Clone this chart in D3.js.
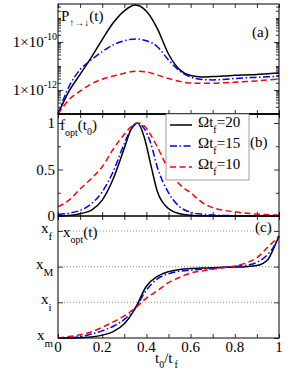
<!DOCTYPE html>
<html>
<head>
<meta charset="utf-8">
<script src="https://cdn.jsdelivr.net/npm/d3@7"></script>
<style>
  body { margin: 0; background: #fff; }
  svg { display: block; font-family: "Liberation Serif", "DejaVu Serif", serif; }
</style>
</head>
<body>
<svg id="chart" width="291" height="376"></svg>
<script>
// panel (a): log10 of P_{up->down}(t)
var tA = [0, 0.05, 0.1, 0.15, 0.2, 0.25, 0.3, 0.35, 0.4, 0.45, 0.5, 0.55, 0.6, 0.65, 0.7, 0.75, 0.8, 0.85, 0.9, 0.95, 1];
var pLog20 = [-13.0, -12.05, -11.35, -10.65, -9.9, -9.2, -8.7, -8.46, -8.72, -9.45, -10.5, -11.15, -11.4, -11.46, -11.44, -11.42, -11.39, -11.37, -11.35, -11.32, -11.29];
var pLog15 = [-13.0, -11.85, -11.15, -10.75, -10.4, -10.12, -9.95, -9.87, -9.95, -10.2, -10.75, -11.2, -11.46, -11.56, -11.58, -11.56, -11.52, -11.49, -11.47, -11.45, -11.42];
var pLog10 = [-13.0, -12.4, -12.05, -11.75, -11.55, -11.42, -11.3, -11.22, -11.25, -11.38, -11.52, -11.64, -11.71, -11.72, -11.72, -11.7, -11.68, -11.65, -11.62, -11.58, -11.54];

// panel (b): f_opt(t0)
var tB = [0, 0.05, 0.1, 0.15, 0.2, 0.25, 0.3, 0.33, 0.36, 0.39, 0.42, 0.45, 0.5, 0.55, 0.6, 0.65, 0.7, 0.8, 0.9, 1];
var f20 = [0, 0.005, 0.025, 0.06, 0.17, 0.4, 0.73, 0.93, 1.0, 0.85, 0.55, 0.26, 0.08, 0.025, 0.008, 0.003, 0.001, 0, 0, 0];
var f15 = [0.015, 0.03, 0.06, 0.13, 0.26, 0.48, 0.78, 0.93, 1.0, 0.94, 0.78, 0.52, 0.25, 0.1, 0.04, 0.02, 0.01, 0.003, 0, 0];
var f10 = [0.1, 0.17, 0.29, 0.4, 0.53, 0.72, 0.88, 0.96, 1.0, 0.97, 0.87, 0.74, 0.5, 0.34, 0.25, 0.15, 0.09, 0.045, 0.02, 0.01];

// panel (c): x_opt(t), in units where x_m=0, x_i=1, x_M=2, x_f=3
var tC = [0, 0.05, 0.1, 0.15, 0.2, 0.25, 0.3, 0.35, 0.4, 0.45, 0.5, 0.55, 0.6, 0.65, 0.7, 0.75, 0.8, 0.85, 0.9, 0.95, 0.975, 1];
var x20 = [0, 0, 0.005, 0.03, 0.08, 0.18, 0.4, 0.84, 1.45, 1.73, 1.86, 1.92, 1.95, 1.96, 1.97, 1.98, 1.99, 2.0, 2.03, 2.2, 2.5, 2.86];
var x15 = [0, 0.01, 0.03, 0.11, 0.2, 0.33, 0.52, 0.84, 1.34, 1.66, 1.8, 1.87, 1.9, 1.93, 1.95, 1.98, 2.0, 2.04, 2.12, 2.35, 2.55, 2.86];
var x10 = [0, 0.04, 0.09, 0.17, 0.3, 0.45, 0.62, 0.84, 1.12, 1.33, 1.55, 1.7, 1.82, 1.88, 1.93, 1.97, 2.02, 2.1, 2.25, 2.55, 2.7, 2.86];

var seriesNames = ['20', '15', '10'];
var xTickLabels = ['0', '0.2', '0.4', '0.6', '0.8', '1'];
var cLevels = [['x', 'm'], ['x', 'i'], ['x', 'M'], ['x', 'f']];

var styles = [
  { color: '#000', dash: null },
  { color: '#0000ff', dash: '7,2.5,1.5,2.5' },
  { color: '#ff0000', dash: '6,3.5' }
];

var svg = d3.select('#chart');
var left = 58, right = 279;
var x = d3.scaleLinear().domain([0, 1]).range([left, right]);

var panels = [
  { top: 4, bottom: 114 },
  { top: 114, bottom: 216 },
  { top: 216, bottom: 338 }
];

var yA = d3.scaleLog().domain([1e-13, Math.pow(10, -8.417)]).range([panels[0].bottom, panels[0].top]);
var yB = d3.scaleLinear().domain([0, 1.097]).range([panels[1].bottom, panels[1].top]);
var yC = d3.scaleLinear().domain([0, 3.42]).range([panels[2].bottom, panels[2].top]);

// minor ticks of the log axis
var logMinor = [];
for (var e = -13; e <= -9; e++) {
  for (var k = 2; k <= 9; k++) logMinor.push(k * Math.pow(10, e));
}
logMinor = logMinor.concat([1e-13, 1e-11, 1e-9]).filter(v => v <= yA.domain()[1]);

var xMinor = d3.range(0, 11).map(i => i / 10);

function drawTicks(g, scale, axisFn, values, len, off) {
  g.append('g')
    .attr('transform', off)
    .call(axisFn(scale).tickValues(values).tickSize(-len).tickFormat(''))
    .call(s => s.select('.domain').remove())
    .selectAll('line').attr('stroke', '#000').attr('stroke-width', 0.8);
}

panels.forEach(function(p, i) {
  var g = svg.append('g');
  // x ticks on bottom and top of each panel
  drawTicks(g, x, d3.axisBottom, xMinor, 4, 'translate(0,' + p.bottom + ')');
  drawTicks(g, x, d3.axisTop, xMinor, 4, 'translate(0,' + p.top + ')');
  var ys, major, minor;
  if (i === 0) { ys = yA; major = [1e-12, 1e-10]; minor = logMinor; }
  if (i === 1) { ys = yB; major = [0, 0.5, 1]; minor = [0.25, 0.75]; }
  if (i === 2) { ys = yC; major = [0, 1, 2, 3]; minor = []; }
  drawTicks(g, ys, d3.axisLeft, major, 5, 'translate(' + left + ',0)');
  drawTicks(g, ys, d3.axisRight, major, 5, 'translate(' + right + ',0)');
  drawTicks(g, ys, d3.axisLeft, minor, 3, 'translate(' + left + ',0)');
  drawTicks(g, ys, d3.axisRight, minor, 3, 'translate(' + right + ',0)');
});

// dotted levels in panel (c)
svg.append('g').selectAll('line')
  .data([1, 2, 3])
  .join('line')
  .attr('x1', left).attr('x2', right)
  .attr('y1', d => yC(d)).attr('y2', d => yC(d))
  .attr('stroke', '#777').attr('stroke-width', 0.8)
  .attr('stroke-dasharray', '1,2');

// curves
function drawCurves(ts, sets, ys, conv) {
  var line = d3.line()
    .x(d => x(d[0]))
    .y(d => ys(conv(d[1])))
    .curve(d3.curveMonotoneX);
  sets.forEach(function(vals, i) {
    svg.append('path')
      .datum(ts.map((t, j) => [t, vals[j]]))
      .attr('d', line)
      .attr('fill', 'none')
      .attr('stroke', styles[i].color)
      .attr('stroke-width', 1.5)
      .attr('stroke-dasharray', styles[i].dash);
  });
}
drawCurves(tA, [pLog20, pLog15, pLog10], yA, v => Math.pow(10, v));
drawCurves(tB, [f20, f15, f10], yB, v => v);
drawCurves(tC, [x20, x15, x10], yC, v => v);

// frames
panels.forEach(function(p) {
  svg.append('rect')
    .attr('x', left).attr('y', p.top)
    .attr('width', right - left).attr('height', p.bottom - p.top)
    .attr('fill', 'none').attr('stroke', '#000').attr('stroke-width', 1);
});
svg.append('line').attr('x1', left).attr('x2', right)
  .attr('y1', panels[0].bottom).attr('y2', panels[0].bottom)
  .attr('stroke', '#000').attr('stroke-width', 1.6);

// x tick labels
svg.append('g').selectAll('text')
  .data(xTickLabels)
  .join('text')
  .attr('x', d => x(+d))
  .attr('y', 352)
  .attr('text-anchor', 'middle')
  .attr('font-size', 15)
  .text(d => d);

var xl = svg.append('text').attr('x', 155).attr('y', 363).attr('font-size', 15);
xl.append('tspan').text('t');
xl.append('tspan').attr('font-size', 10).attr('dy', 5).text('0');
xl.append('tspan').attr('dy', -5).text('/t');
xl.append('tspan').attr('font-size', 10).attr('dy', 5).attr('dx', 2).text('f');

// y tick labels (a)
[1e-10, 1e-12].forEach(function(v) {
  var t = svg.append('text').attr('x', 57).attr('y', yA(v) + 5).attr('text-anchor', 'end').attr('font-size', 15);
  t.append('tspan').text('1\u00d710');
  t.append('tspan').attr('font-size', 10).attr('dy', -7).text(String(Math.round(Math.log10(v))));
});

// y tick labels (b)
[[1, '1'], [0.5, '0.5'], [0, '0']].forEach(function(d) {
  svg.append('text').attr('x', 55).attr('y', yB(d[0]) + 5)
    .attr('text-anchor', 'end').attr('font-size', 15).text(d[1]);
});

// y tick labels (c)
cLevels.forEach(function(d, i) {
  var t = svg.append('text').attr('x', i === 0 ? 37 : (i === 2 ? 36 : 41))
    .attr('y', yC(i) + 2).attr('font-size', 15);
  t.append('tspan').text(d[0]);
  t.append('tspan').attr('font-size', 11).attr('dy', 7).text(d[1]);
});

// quantity labels
var la = svg.append('text').attr('x', 61).attr('y', 21).attr('font-size', 15);
la.append('tspan').text('P');
la.append('tspan').attr('font-size', 10).attr('dy', 5).text('\u2191\u2192\u2193');
la.append('tspan').attr('dy', -5).text('(t)');

var lb = svg.append('text').attr('x', 60).attr('y', 130).attr('font-size', 15);
lb.append('tspan').text('f');
lb.append('tspan').attr('font-size', 10).attr('dy', 6).text('opt');
lb.append('tspan').attr('dy', -6).text('(t');
lb.append('tspan').attr('font-size', 10).attr('dy', 5).text('0');
lb.append('tspan').attr('dy', -5).text(')');

var lc = svg.append('text').attr('x', 63).attr('y', 237).attr('font-size', 15);
lc.append('tspan').text('x');
lc.append('tspan').attr('font-size', 10).attr('dy', 6).text('opt');
lc.append('tspan').attr('dy', -6).text('(t)');

// panel tags
[['(a)', 252, 37], ['(b)', 250, 147], ['(c)', 255, 232]].forEach(function(d) {
  svg.append('text').attr('x', d[1]).attr('y', d[2]).attr('font-size', 15).text(d[0]);
});

// legend
var lg = svg.append('g');
lg.append('rect').attr('x', 166).attr('y', panels[1].top).attr('width', 83).attr('height', 66)
  .attr('fill', '#fff').attr('stroke', '#888').attr('stroke-width', 0.8);
seriesNames.forEach(function(n, i) {
  var yy = 125 + i * 21;
  lg.append('line').attr('x1', 170).attr('x2', 192).attr('y1', yy).attr('y2', yy)
    .attr('stroke', styles[i].color).attr('stroke-width', 1.5)
    .attr('stroke-dasharray', styles[i].dash);
  var t = lg.append('text').attr('x', 198).attr('y', yy + 2).attr('font-size', 15);
  t.append('tspan').text('\u03a9t');
  t.append('tspan').attr('font-size', 10).attr('dy', 6).text('f');
  t.append('tspan').attr('dy', -6).text('=' + n);
});
</script>
</body>
</html>
